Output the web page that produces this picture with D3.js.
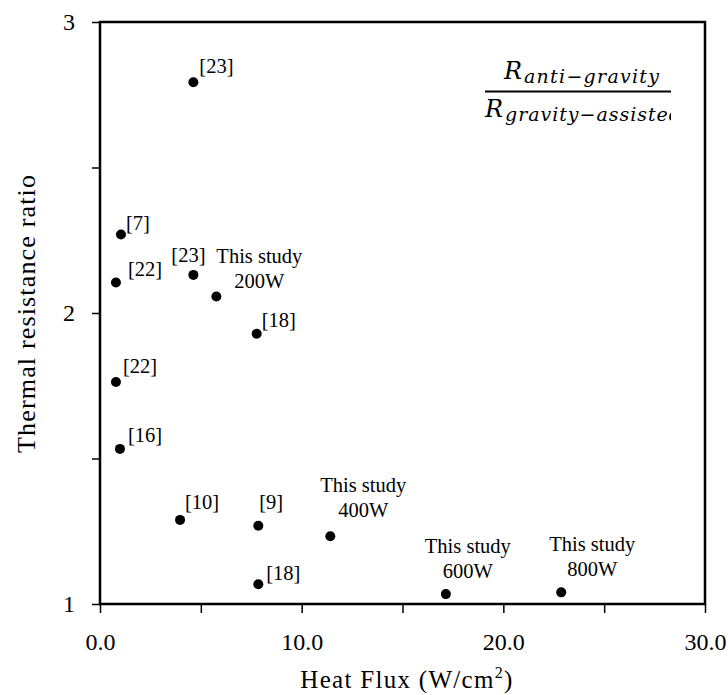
<!DOCTYPE html>
<html>
<head>
<meta charset="utf-8">
<script src="https://cdn.jsdelivr.net/npm/d3@7"></script>
<style>
  body { margin: 0; background: #fff; }
</style>
</head>
<body>
<div id="chart"></div>
<script>
// data
var refs = ["[23]", "[7]", "[22]", "[23]", "This study|200W", "[18]", "[22]", "[16]",
            "[10]", "[9]", "This study|400W", "[18]", "This study|600W", "This study|800W"];
var heatFlux = [4.63, 1.04, 0.79, 4.63, 5.77, 7.77, 0.79, 0.99, 3.97, 7.85, 11.42, 7.85, 17.15, 22.87];
var ratio = [2.793, 2.270, 2.105, 2.131, 2.057, 1.929, 1.763, 1.533, 1.289, 1.269, 1.233, 1.068, 1.034, 1.040];

var xTicks = [0, 5, 10, 15, 20, 25, 30];
var yTicks = [1, 1.5, 2, 2.5, 3];

// label placement (dx, dy from the dot) - kept apart from the data
var labelPos = [[6, -9], [5, -4], [12, -6], [-22, -13], [43, -33], [5, -7], [7, -9],
                [8, -7], [5, -11], [1, -17], [33, -44], [8, -4], [22, -41], [31, -41]];

var W = 728, H = 695;
var margin = {left: 100, right: 23, top: 22, bottom: 91};
var serif = '"Liberation Serif", "Times New Roman", serif';
var mathFont = '"DejaVu Serif", serif';

var svg = d3.select('#chart').append('svg')
    .attr('width', W).attr('height', H)
    .style('font-family', serif);

var x = d3.scaleLinear().domain([0, 30]).range([margin.left, W - margin.right]);
var y = d3.scaleLinear().domain([1, 3]).range([H - margin.bottom, margin.top]);

// x axis
var xAxis = svg.append('g')
    .attr('transform', 'translate(0,' + y(1) + ')')
    .call(d3.axisBottom(x).tickValues(xTicks).tickSize(9)
      .tickFormat(d => (d % 10 == 0) ? d.toFixed(1) : ''));
xAxis.select('.domain').remove();
xAxis.selectAll('line').attr('stroke-width', 1.5);
xAxis.selectAll('text').style('font-family', serif).attr('font-size', 24)
    .attr('dy', null).attr('y', 46);

// y axis
var yAxis = svg.append('g')
    .attr('transform', 'translate(' + x(0) + ',0)')
    .call(d3.axisLeft(y).tickValues(yTicks).tickSize(8)
      .tickFormat(d => (d % 1 == 0) ? d : ''));
yAxis.select('.domain').remove();
yAxis.selectAll('line').attr('stroke-width', 1.5);
yAxis.selectAll('text').style('font-family', serif).attr('font-size', 24)
    .attr('x', -25);

// frame
svg.append('rect')
    .attr('x', x(0)).attr('y', y(3))
    .attr('width', x(30) - x(0)).attr('height', y(1) - y(3))
    .attr('fill', 'none').attr('stroke', '#000').attr('stroke-width', 2.5);

// axis titles
var xt = svg.append('text')
    .attr('x', 407).attr('y', 688)
    .attr('text-anchor', 'middle').attr('font-size', 25)
    .style('letter-spacing', '1.3px');
xt.append('tspan').text('Heat Flux (W/cm');
xt.append('tspan').text('2').attr('font-size', 16).attr('dy', -10);
xt.append('tspan').text(')').attr('dy', 10);

svg.append('text')
    .attr('transform', 'translate(35,314) rotate(-90)')
    .attr('text-anchor', 'middle').attr('font-size', 26)
    .attr('textLength', 278).attr('lengthAdjust', 'spacing')
    .text('Thermal resistance ratio');

// points
var pts = refs.map((r, i) => ({ref: r, x: heatFlux[i], y: ratio[i], off: labelPos[i]}));

svg.selectAll('circle.pt')
    .data(pts).enter()
    .append('circle')
      .attr('class', 'pt')
      .attr('cx', d => x(d.x))
      .attr('cy', d => y(d.y))
      .attr('r', 5)
      .attr('fill', '#000');

pts.forEach(function(d) {
  var parts = d.ref.split('|');
  var t = svg.append('text')
      .attr('font-size', 20.5)
      .attr('text-anchor', parts.length > 1 ? 'middle' : 'start');
  parts.forEach(function(p, j) {
    t.append('tspan')
      .attr('x', x(d.x) + d.off[0])
      .attr('y', y(d.y) + d.off[1] + j * 25)
      .text(p);
  });
});

// ratio legend in the top right (cut off at its box edge, as in the original)
svg.append('clipPath').attr('id', 'fracClip')
  .append('rect').attr('x', 470).attr('y', 40).attr('width', 201).attr('height', 100);

var frac = svg.append('g').attr('clip-path', 'url(#fracClip)')
    .style('font-family', mathFont).style('font-style', 'italic');

frac.append('text').attr('x', 504).attr('y', 79)
    .attr('font-size', 24)
    .text('R');
frac.append('text').attr('x', 524).attr('y', 83)
    .attr('font-size', 19)
    .attr('textLength', 135).attr('lengthAdjust', 'spacing')
    .text('anti\u2212gravity');

frac.append('line')
    .attr('x1', 485).attr('x2', 671).attr('y1', 91.5).attr('y2', 91.5)
    .attr('stroke', '#000').attr('stroke-width', 2.2);

frac.append('text').attr('x', 485).attr('y', 117)
    .attr('font-size', 24)
    .text('R');
frac.append('text').attr('x', 505).attr('y', 121)
    .attr('font-size', 19)
    .attr('textLength', 176).attr('lengthAdjust', 'spacing')
    .text('gravity\u2212assisted');
</script>
</body>
</html>
